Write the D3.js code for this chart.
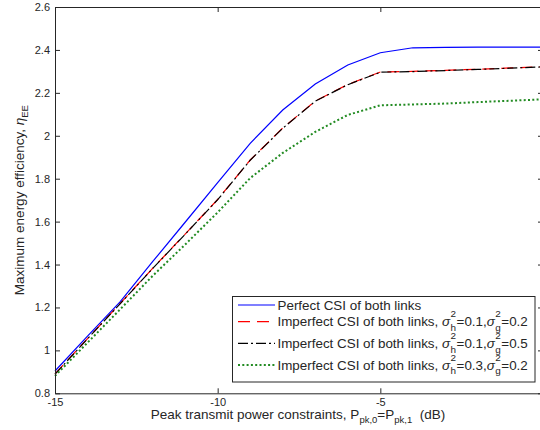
<!DOCTYPE html>
<html>
<head>
<meta charset="utf-8">
<script src="https://cdn.jsdelivr.net/npm/d3@7/dist/d3.min.js"></script>
<style>
  body { margin: 0; background: #fff; }
  svg { display: block; }
  text { font-family: "Liberation Sans", Arial, Helvetica, sans-serif; fill: #262626; white-space: pre; }
</style>
</head>
<body>
<svg id="chart" width="540" height="430" xml:space="preserve"></svg>
<script>
// Peak transmit power constraint (dB)
const powerDb = [-15, -14, -13, -12, -11, -10, -9, -8, -7, -6, -5, -4, -3, -2, -1, 0];

// Maximum energy efficiency for each CSI case
const perfectCsi = [0.904, 1.066, 1.226, 1.413, 1.597, 1.782, 1.965, 2.120, 2.241, 2.330, 2.387, 2.410, 2.412, 2.413, 2.413, 2.413];
const imperfectH01G02 = [0.890, 1.055, 1.218, 1.382, 1.542, 1.703, 1.887, 2.036, 2.162, 2.239, 2.297, 2.300, 2.305, 2.310, 2.316, 2.322];
const imperfectH01G05 = [0.889, 1.054, 1.217, 1.381, 1.541, 1.702, 1.886, 2.035, 2.161, 2.238, 2.296, 2.299, 2.304, 2.309, 2.315, 2.321];
const imperfectH03G02 = [0.881, 1.036, 1.191, 1.347, 1.493, 1.643, 1.803, 1.920, 2.018, 2.097, 2.142, 2.146, 2.150, 2.157, 2.163, 2.170];

const xTickValues = [-15, -10, -5];
const yTickValues = [0.8, 1.0, 1.2, 1.4, 1.6, 1.8, 2.0, 2.2, 2.4, 2.6];

const series = [
  { values: perfectCsi,      color: "#0000ff", width: 1.2, dash: null,       legend: [{ t: "Perfect CSI of both links" }] },
  { values: imperfectH01G02, color: "#ff0000", width: 1.2, dash: "12,7",     legend: [{ t: "Imperfect CSI of both links, " }, { t: "σ", italic: true }, { sup: "2", sub: "h" }, { t: "=0.1," }, { t: "σ", italic: true }, { sup: "2", sub: "g" }, { t: "=0.2" }] },
  { values: imperfectH01G05, color: "#000000", width: 1.2, dash: "10,3,2,3", legend: [{ t: "Imperfect CSI of both links, " }, { t: "σ", italic: true }, { sup: "2", sub: "h" }, { t: "=0.1," }, { t: "σ", italic: true }, { sup: "2", sub: "g" }, { t: "=0.5" }] },
  { values: imperfectH03G02, color: "#228b22", width: 2.0, dash: "2,2.3",    legend: [{ t: "Imperfect CSI of both links, " }, { t: "σ", italic: true }, { sup: "2", sub: "h" }, { t: "=0.3," }, { t: "σ", italic: true }, { sup: "2", sub: "g" }, { t: "=0.2" }] }
];

const svg = d3.select("#chart");
const plot = { left: 55, right: 543, top: 7, bottom: 393.3 };
const axisColor = "#262626";

const x = d3.scaleLinear().domain([-15, 0]).range([plot.left, plot.right]);
const y = d3.scaleLinear().domain([0.8, 2.6]).range([plot.bottom, plot.top]);

// Data lines
const line = d3.line().x((d, i) => x(powerDb[i])).y(d => y(d));
series.forEach(s => {
  svg.append("path")
    .datum(s.values)
    .attr("fill", "none")
    .attr("stroke", s.color)
    .attr("stroke-width", s.width)
    .attr("stroke-dasharray", s.dash)
    .attr("d", line);
});

// Axes: box with inward ticks on all four sides
const fmt = d => String(+d.toFixed(1));
function styleAxis(g) {
  g.selectAll("path.domain").attr("stroke", axisColor).attr("stroke-width", 1);
  g.selectAll(".tick line").attr("stroke", axisColor).attr("stroke-width", 1);
  g.selectAll(".tick text").attr("fill", axisColor).style("font-size", "11px")
    .style("font-family", "'Liberation Sans', Arial, sans-serif");
}
svg.append("g").attr("transform", `translate(0,${plot.bottom})`)
  .call(d3.axisBottom(x).tickValues(xTickValues).tickFormat(fmt).tickSizeInner(-5).tickSizeOuter(0).tickPadding(5))
  .call(styleAxis);
svg.append("g").attr("transform", `translate(0,${plot.top})`)
  .call(d3.axisTop(x).tickValues(xTickValues).tickFormat("").tickSizeInner(-5).tickSizeOuter(0))
  .call(styleAxis);
svg.append("g").attr("transform", `translate(${plot.left},0)`)
  .call(d3.axisLeft(y).tickValues(yTickValues).tickFormat(fmt).tickSizeInner(-5).tickSizeOuter(0).tickPadding(5))
  .call(styleAxis);
svg.append("g").attr("transform", `translate(${plot.right},0)`)
  .call(d3.axisRight(y).tickValues(yTickValues).tickFormat("").tickSizeInner(-5).tickSizeOuter(0))
  .call(styleAxis);

// Axis titles
const xTitle = svg.append("text")
  .attr("x", (plot.left + plot.right) / 2 - 1).attr("y", 418.5)
  .attr("text-anchor", "middle").style("font-size", "13.5px");
xTitle.append("tspan").text("Peak transmit power constraints, P");
xTitle.append("tspan").attr("dy", 4).style("font-size", "9.5px").text("pk,0");
xTitle.append("tspan").attr("dy", -4).text("=P");
xTitle.append("tspan").attr("dy", 4).style("font-size", "9.5px").text("pk,1");
xTitle.append("tspan").attr("dy", -4).text("  (dB)");

const yTitle = svg.append("text")
  .attr("transform", `translate(24,${(plot.top + plot.bottom) / 2}) rotate(-90)`)
  .attr("text-anchor", "middle").style("font-size", "13.5px");
yTitle.append("tspan").text("Maximum energy efficiency, ");
yTitle.append("tspan").style("font-style", "italic").text("η");
yTitle.append("tspan").attr("dy", 4).style("font-size", "9.5px").text("EE");

// Legend
const legend = svg.append("g");
legend.append("rect")
  .attr("x", 232.5).attr("y", 296.5).attr("width", 302.5).attr("height", 85.5)
  .attr("fill", "#fff").attr("stroke", axisColor).attr("stroke-width", 1);

const rowCenters = [305, 321.7, 343.3, 365];
const fontSize = 13.4;

function drawRich(parent, x0, y0, segs, size) {
  let cx = x0;
  segs.forEach(s => {
    if (s.sup !== undefined || s.sub !== undefined) {
      const small = size * 0.74;
      let w = 0;
      if (s.sup) {
        const t = parent.append("text").attr("x", cx + 0.5).attr("y", y0 - size * 0.66)
          .style("font-size", small + "px").text(s.sup);
        w = Math.max(w, t.node().getComputedTextLength());
      }
      if (s.sub) {
        const t = parent.append("text").attr("x", cx + 0.5).attr("y", y0 + size * 0.35)
          .style("font-size", small + "px").text(s.sub);
        w = Math.max(w, t.node().getComputedTextLength());
      }
      cx += w + 1;
    } else {
      const t = parent.append("text").attr("x", cx).attr("y", y0)
        .style("font-size", size + "px")
        .style("font-style", s.italic ? "italic" : null)
        .text(s.t);
      cx += t.node().getComputedTextLength();
    }
  });
}

series.forEach((s, i) => {
  const cy = rowCenters[i];
  legend.append("line")
    .attr("x1", 238).attr("x2", 275).attr("y1", cy).attr("y2", cy)
    .attr("stroke", s.color).attr("stroke-width", s.width)
    .attr("stroke-dasharray", s.dash);
  drawRich(legend, 277.5, cy + 4.6, s.legend, fontSize);
});
</script>
</body>
</html>
